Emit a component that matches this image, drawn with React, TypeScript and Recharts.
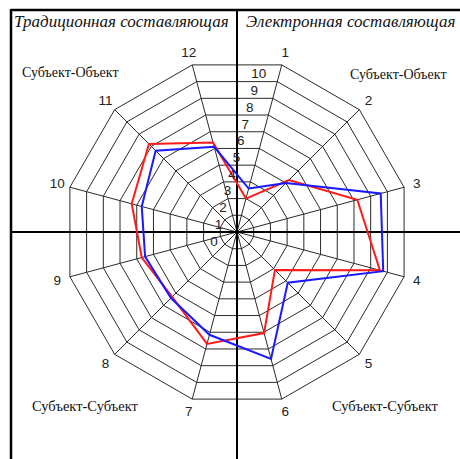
import { Customized, PolarAngleAxis, PolarGrid, PolarRadiusAxis, Radar, RadarChart } from 'recharts'

const axes = ['1', '2', '3', '4', '5', '6', '7', '8', '9', '10', '11', '12']
const redValues = [2.0, 4.25, 7.2, 8.55, 3.1, 6.05, 6.7, 5.3, 5.7, 6.3, 7.2, 5.35]
const blueValues = [2.6, 4.0, 8.6, 8.75, 4.15, 7.6, 6.15, 5.4, 5.5, 5.7, 6.65, 5.1]
const radiusTicks = [0, 1, 2, 3, 4, 5, 6, 7, 8, 9, 10]

const headerLeft = 'Традиционная составляющая'
const headerRight = 'Электронная составляющая'
const quadrantTop = 'Субъект-Объект'
const quadrantBottom = 'Субъект-Субъект'

const data = axes.map((name, i) => ({ name, red: redValues[i], blue: blueValues[i] }))

const W = 460
const H = 459
const CX = 237
const CY = 232
const R = 173

function AngleTick(props: any) {
  const { x, y, payload } = props
  const dx = x - CX
  const dy = y - CY
  const d = Math.hypot(dx, dy) || 1
  return (
    <text
      x={CX + (dx / d) * 186}
      y={CY + (dy / d) * 186}
      textAnchor="middle"
      dominantBaseline="central"
      fontFamily="Liberation Sans, Arial, sans-serif"
      fontSize={13.5}
      fill="#222"
    >
      {payload.value}
    </text>
  )
}

function RadiusTick(props: any) {
  const { x, y, payload } = props
  return (
    <text
      x={x - 23}
      y={y + 9}
      textAnchor="middle"
      dominantBaseline="central"
      fontFamily="Liberation Sans, Arial, sans-serif"
      fontSize={13.5}
      fill="#222"
    >
      {payload.value}
    </text>
  )
}

function Overlay() {
  const serif = 'Liberation Serif, Times New Roman, serif'
  return (
    <g>
      <line x1={11} y1={10} x2={W} y2={10} stroke="#000" strokeWidth={2.5} />
      <line x1={11} y1={9} x2={11} y2={H} stroke="#000" strokeWidth={2.5} />
      <line x1={CX} y1={10} x2={CX} y2={H} stroke="#000" strokeWidth={2} />
      <line x1={11} y1={CY} x2={W} y2={CY} stroke="#000" strokeWidth={2} />
      <text x={14} y={27} fontFamily={serif} fontStyle="italic" fontSize={17} fill="#111">{headerLeft}</text>
      <text x={246} y={27} fontFamily={serif} fontStyle="italic" fontSize={17} fill="#111">{headerRight}</text>
      <text x={22} y={77} fontFamily={serif} fontSize={14} fill="#111">{quadrantTop}</text>
      <text x={350} y={79} fontFamily={serif} fontSize={14} fill="#111">{quadrantTop}</text>
      <text x={32} y={411} fontFamily={serif} fontSize={14.5} fill="#111">{quadrantBottom}</text>
      <text x={332} y={411} fontFamily={serif} fontSize={14.5} fill="#111">{quadrantBottom}</text>
    </g>
  )
}

export default function App() {
  return (
    <div style={{ position: 'absolute', left: 0, top: 0, width: W, height: H, background: '#fff' }}>
      <RadarChart
        width={W}
        height={H}
        data={data}
        cx={CX}
        cy={CY}
        outerRadius={R}
        startAngle={75}
        endAngle={-285}
        margin={{ top: 0, right: 0, bottom: 0, left: 0 }}
      >
        <PolarGrid gridType="polygon" stroke="#2a2a2a" strokeWidth={1} />
        <PolarAngleAxis dataKey="name" tick={<AngleTick />} axisLine={false} tickLine={false} />
        <PolarRadiusAxis
          angle={75}
          domain={[0, 10]}
          ticks={radiusTicks as any}
          tickCount={11}
          axisLine={false}
          tickLine={false}
          tick={<RadiusTick />}
        />
        <Radar dataKey="red" stroke="#ff1a1a" strokeWidth={2} fill="none" fillOpacity={0} dot={false} isAnimationActive={false} />
        <Radar dataKey="blue" stroke="#1a1aff" strokeWidth={2} fill="none" fillOpacity={0} dot={false} isAnimationActive={false} />
        <Customized component={<Overlay />} />
      </RadarChart>
    </div>
  )
}
